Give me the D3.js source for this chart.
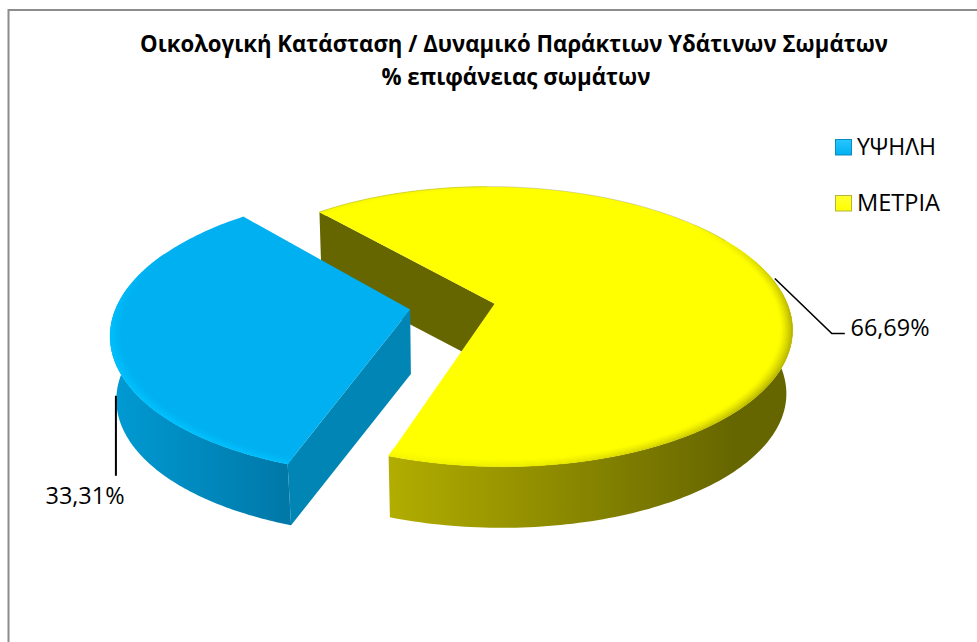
<!DOCTYPE html>
<html>
<head>
<meta charset="utf-8">
<script src="https://cdn.jsdelivr.net/npm/d3@7"></script>
<style>
  html, body { margin: 0; padding: 0; background: #fff; }
  svg { display: block; }
  text { font-family: "Open Sans", sans-serif; fill: #000; }
</style>
</head>
<body>
<svg id="chart" width="977" height="642"></svg>
<script>
// Chart content
const titleLines = ["Οικολογική Κατάσταση / Δυναμικό Παράκτιων Υδάτινων Σωμάτων", "% επιφάνειας σωμάτων"];
const categories = ["ΥΨΗΛΗ", "ΜΕΤΡΙΑ"];
const shares = [33.31, 66.69];
const shareLabels = ["33,31%", "66,69%"];

const faceColors = ["#00B0F0", "#FFFF00"];
const rimColors = ["#00C4FF", "#A8A400"];
const innerWallColors = ["#0085B5", "#666600"];
const outerWallStops = [["#009AD3", "#0078A8"], ["#B2AD00", "#666600"]];

const rad = d => d * Math.PI / 180;
const firstSliceAngle = rad(199.2);

// Perspective model of the tilted disc: u to the right, v towards the viewer, z downwards.
const view = { cx: 451.5, cy: 307.5, A: 294, B: 137.5, D: 64.5, k: 0.165, m: 0.018 };
const explode = 0.15;
// Small extra shift of each exploded slice on the disc plane
const sliceShift = [[0.007, -0.014], [0, 0]];

const svg = d3.select("#chart");
const defs = svg.append("defs");

const pie = d3.pie().sort(null).startAngle(firstSliceAngle).endAngle(firstSliceAngle + 2 * Math.PI);
const slices = pie(shares).map((s, i) => {
  const mid = (s.startAngle + s.endAngle) / 2;
  return {
    ...s, i, mid,
    su: explode * Math.sin(mid) + sliceShift[i][0],
    sv: -explode * Math.cos(mid) + sliceShift[i][1]
  };
});

function project(s, r, theta, z) {
  const u = s.su + r * Math.sin(theta);
  const v = s.sv - r * Math.cos(theta);
  const w = 1 - view.k * v;
  const wz = w + view.m * z;
  return [view.cx + view.A * u / wz, view.cy + view.B * v / wz + view.D * z];
}

const arcPoints = (s, r, a0, a1, z) =>
  d3.range(0, 121).map(j => project(s, r, a0 + (a1 - a0) * j / 120, z));

const line = d3.line();
const closed = pts => line(pts) + "Z";

// Frame of the chart area
svg.append("path")
  .attr("d", "M8.5,642V10H977")
  .attr("fill", "none")
  .attr("stroke", "#8c8c8c")
  .attr("stroke-width", 2);

// Side walls and top faces, one group per slice
function drawWalls(s) {
  const g = svg.append("g");
  const stops = outerWallStops[s.i];
  // Outer wall: only the arc that faces the viewer is visible
  const a0 = s.i === 0 ? s.startAngle : rad(430);
  const a1 = s.i === 0 ? rad(280) : s.endAngle;
  const top = arcPoints(s, 1, a0, a1, 0);
  const bottom = arcPoints(s, 1, a0, a1, 1);
  const gradId = "wall" + s.i;
  const xs = s.i === 0 ? [project(s, 1, rad(268), 0)[0], project(s, 1, s.startAngle, 0)[0]]
                       : [project(s, 1, s.endAngle, 0)[0], project(s, 1, rad(135), 0)[0]];
  const grad = defs.append("linearGradient").attr("id", gradId)
    .attr("gradientUnits", "userSpaceOnUse")
    .attr("x1", xs[0]).attr("x2", xs[1]).attr("y1", 0).attr("y2", 0);
  grad.append("stop").attr("offset", 0).attr("stop-color", stops[0]);
  grad.append("stop").attr("offset", 1).attr("stop-color", stops[1]);
  g.append("path")
    .attr("d", closed(top.concat(bottom.reverse())))
    .attr("fill", `url(#${gradId})`);
  // Flat wall along the cut that faces the camera
  const cut = s.startAngle;
  g.append("path")
    .attr("d", closed([project(s, 0, cut, 0), project(s, 1, cut, 0), project(s, 1, cut, 1), project(s, 0, cut, 1)]))
    .attr("fill", innerWallColors[s.i]);
}

// Strength of the bevel around the rim for each slice, by angle in degrees
const rimStrength = [
  d3.scaleLinear().domain([198, 230, 262, 295]).range([0.9, 1, 0.85, 0]).clamp(true),
  d3.scaleLinear().domain([50, 95, 130, 175, 200]).range([0, 0.9, 0.85, 0.25, 0.1]).clamp(true)
];
const rimProfile = d3.scaleLinear().domain([0, 1]).range([1, 0.958]);

function drawTop(s) {
  const g = svg.append("g");
  const outline = [project(s, 0, s.startAngle, 0)].concat(arcPoints(s, 1, s.startAngle, s.endAngle, 0));
  g.append("path").attr("d", closed(outline)).attr("fill", faceColors[s.i]);

  const mix = d3.interpolateRgb(faceColors[s.i], rimColors[s.i]);
  const step = rad(1.5), rings = 8;
  for (let a = s.startAngle; a < s.endAngle - 1e-6; a += step) {
    const a2 = Math.min(a + step, s.endAngle);
    const deg = ((a + step / 2) * 180 / Math.PI) % 360;
    const strength = rimStrength[s.i](deg);
    if (strength <= 0) continue;
    d3.range(rings).forEach(n => {
      const r0 = rimProfile(n / rings), r1 = rimProfile((n + 1) / rings);
      const fade = Math.pow(1 - (n + 0.5) / rings, 1.3);
      const c = mix(strength * fade);
      g.append("path")
        .attr("d", closed([project(s, r0, a, 0), project(s, r0, a2, 0), project(s, r1, a2, 0), project(s, r1, a, 0)]))
        .attr("fill", c).attr("stroke", c).attr("stroke-width", 0.4);
    });
  }
}

// The larger slice sits behind the smaller one
const [blue, yellow] = slices;
drawWalls(yellow);
drawTop(yellow);
drawWalls(blue);
drawTop(blue);

// Faint edge along the far side of the large slice
svg.append("path")
  .attr("d", line(arcPoints(yellow, 1, yellow.startAngle, rad(420), 0)))
  .attr("fill", "none").attr("stroke", "#9a9a70").attr("stroke-opacity", 0.55).attr("stroke-width", 0.7);

// Title
titleLines.forEach((t, i) => {
  svg.append("text")
    .attr("x", i === 0 ? 514 : 516)
    .attr("y", i === 0 ? 52 : 85)
    .attr("text-anchor", "middle")
    .attr("font-size", 24)
    .attr("font-weight", 700)
    .attr("textLength", i === 0 ? 748 : 269)
    .attr("lengthAdjust", "spacingAndGlyphs")
    .text(t);
});

// Leader lines and value labels
const blueStart = project(blue, 1, blue.mid, 0.93);
svg.append("path")
  .attr("d", line([blueStart, [blueStart[0], blueStart[1] + 80]]))
  .attr("fill", "none").attr("stroke", "#000").attr("stroke-width", 2);
svg.append("text").attr("x", 85).attr("y", 504).attr("text-anchor", "middle")
  .attr("font-size", 24).attr("textLength", 79).attr("lengthAdjust", "spacingAndGlyphs").text(shareLabels[0]);

const yellowStart = project(yellow, 1.01, yellow.mid, 0);
const yellowElbow = [yellowStart[0] + 57, yellowStart[1] + 55];
svg.append("path")
  .attr("d", line([yellowStart, yellowElbow, [yellowElbow[0] + 13, yellowElbow[1]]]))
  .attr("fill", "none").attr("stroke", "#000").attr("stroke-width", 1.6);
svg.append("text").attr("x", 890).attr("y", 336).attr("text-anchor", "middle")
  .attr("font-size", 24).attr("textLength", 79).attr("lengthAdjust", "spacingAndGlyphs").text(shareLabels[1]);

// Legend
const legendY = d3.scalePoint().domain(categories).range([147, 203]);
const swatchEdges = ["#0A8DBE", "#B4B43C"];
const swatchLights = ["#28C6FF", "#FFFF30"];
categories.forEach((c, i) => {
  const y = legendY(c);
  const id = "swatch" + i;
  const grad = defs.append("linearGradient").attr("id", id).attr("x1", 0).attr("y1", 0).attr("x2", 0).attr("y2", 1);
  grad.append("stop").attr("offset", 0).attr("stop-color", swatchLights[i]);
  grad.append("stop").attr("offset", 1).attr("stop-color", faceColors[i]);
  svg.append("rect").attr("x", 835.5).attr("y", y - 7.5).attr("width", 16).attr("height", 15.5)
    .attr("fill", `url(#${id})`).attr("stroke", swatchEdges[i]).attr("stroke-width", 1);
  svg.append("text").attr("x", 857).attr("y", y + 8).attr("font-size", 24)
    .attr("textLength", i === 0 ? 79 : 83).attr("lengthAdjust", "spacingAndGlyphs").text(c);
});
</script>
</body>
</html>
